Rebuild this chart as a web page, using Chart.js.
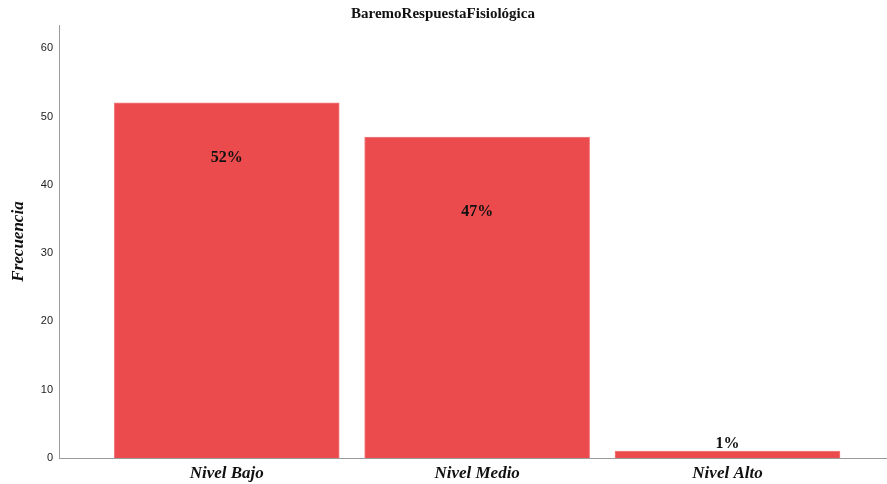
<!DOCTYPE html>
<html>
<head>
<meta charset="utf-8">
<script src="https://cdn.jsdelivr.net/npm/chart.js@4/dist/chart.umd.min.js"></script>
<style>
  html, body { margin: 0; padding: 0; background: #fff; }
  #wrap { width: 887px; height: 484px; }
</style>
</head>
<body>
<div id="wrap"><canvas id="myChart" width="887" height="484"></canvas></div>
<script>
var categories = ['Nivel Bajo', 'Nivel Medio', 'Nivel Alto'];
var frecuencia = [52, 47, 1];
var porcentajes = ['52%', '47%', '1%'];
var labelAt = [43.9, 36.0, 2.1];   // where the % text sits, in y units
var yTicks = [0, 10, 20, 30, 40, 50, 60];

var ctx = document.getElementById('myChart').getContext('2d');

// draws the percent text on each bar
var pctLabels = {
    id: 'pctLabels',
    afterDatasetsDraw: function (chart) {
        var x = chart.scales.x, y = chart.scales.y;
        var c = chart.ctx;
        c.save();
        c.font = 'bold 16px "Liberation Serif", "DejaVu Serif", serif';
        c.fillStyle = '#111';
        c.textAlign = 'center';
        c.textBaseline = 'middle';
        porcentajes.forEach(function (p, i) {
            c.fillText(p, x.getPixelForValue(i), y.getPixelForValue(labelAt[i]));
        });
        c.restore();
    }
};

var chart = new Chart(ctx, {
    type: 'bar',
    data: {
        datasets: [{
            label: 'Frecuencia',
            data: frecuencia.map(function (v, i) { return { x: i, y: v }; }),
            backgroundColor: '#EC4B4D',
            borderColor: '#F27E7F',
            borderWidth: 1,
            barThickness: 225
        }]
    },
    options: {
        responsive: false,
        animation: false,
        layout: { padding: { left: 0, right: 1, top: 0, bottom: 0 } },
        plugins: {
            legend: { display: false },
            tooltip: { enabled: false },
            title: {
                display: true,
                text: 'BaremoRespuestaFisiológica',
                color: '#111',
                font: { family: '"Liberation Serif", "DejaVu Serif", serif', size: 15, weight: 'bold' },
                padding: { top: 5, bottom: 2 }
            }
        },
        scales: {
            x: {
                type: 'linear',
                offset: false,
                min: -0.67,
                max: 2.633,
                grid: { display: false, drawTicks: false, offset: false },
                border: { display: true, color: '#9a9a9a', width: 1 },
                afterFit: function (s) { s.height = 26; },
                afterBuildTicks: function (s) {
                    s.ticks = categories.map(function (c, i) { return { value: i }; });
                },
                ticks: {
                    autoSkip: false,
                    maxRotation: 0,
                    padding: 5,
                    color: '#111',
                    font: { family: '"Liberation Serif", "DejaVu Serif", serif', size: 17, weight: 'bold', style: 'italic' },
                    callback: function (v) { return categories[v]; }
                }
            },
            y: {
                min: 0,
                max: 63.4,
                grid: { display: false, drawTicks: false },
                border: { display: true, color: '#9a9a9a', width: 1 },
                afterFit: function (s) { s.width = 59; },
                afterBuildTicks: function (s) {
                    s.ticks = yTicks.map(function (t) { return { value: t }; });
                },
                ticks: {
                    padding: 6,
                    color: '#222',
                    font: { family: '"Liberation Sans", Arial, sans-serif', size: 11 }
                },
                title: {
                    display: true,
                    text: 'Frecuencia',
                    color: '#111',
                    padding: { top: 8, bottom: 0 },
                    font: { family: '"Liberation Serif", "DejaVu Serif", serif', size: 17, weight: 'bold', style: 'italic' }
                }
            }
        }
    },
    plugins: [pctLabels]
});
</script>
</body>
</html>
